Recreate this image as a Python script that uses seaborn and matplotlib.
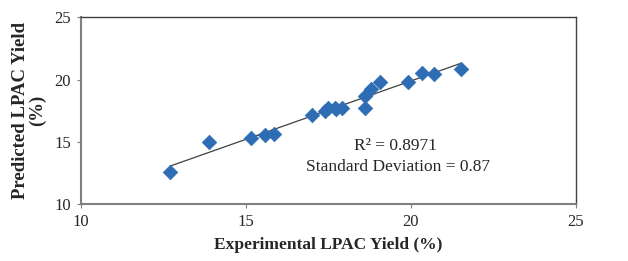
import numpy as np
import pandas as pd
import matplotlib
matplotlib.use("Agg")
import matplotlib.pyplot as plt
import seaborn as sns

experimental = [12.70, 13.89, 15.17, 15.57, 15.87, 17.01, 17.40, 17.50, 17.69, 17.73,
                17.91, 18.62, 18.62, 18.79, 19.07, 19.92, 20.35, 20.70, 21.51]
predicted = [12.60, 14.96, 15.28, 15.55, 15.63, 17.15, 17.50, 17.74, 17.74, 17.64,
             17.69, 17.74, 18.68, 19.22, 19.78, 19.83, 20.50, 20.45, 20.85]
ticks = [10, 15, 20, 25]
r2_text = "R² = 0.8971"
sd_text = "Standard Deviation = 0.87"

df = pd.DataFrame({"exp": experimental, "pred": predicted})

sns.set_style("white")
plt.rcParams['font.family'] = ['Liberation Serif', 'DejaVu Serif']

fig = plt.figure(figsize=(6.28, 2.61), dpi=100)
ax = fig.add_axes([0.1285, 0.218, 0.917 - 0.1285, 0.934 - 0.218])

# trend line
coef = np.polyfit(df["exp"], df["pred"], 1)
xl = np.array([min(experimental), max(experimental)])
sns.lineplot(x=xl, y=np.polyval(coef, xl), ax=ax, color="#404040", linewidth=0.9)

sns.scatterplot(data=df, x="exp", y="pred", ax=ax, marker="D", s=55,
                color="#2E6DB4", edgecolor="#2E6DB4", linewidth=0.5, zorder=3)

ax.set_xlim(10, 25)
ax.set_ylim(10, 25)
ax.set_xticks(ticks)
ax.set_yticks(ticks)
ax.tick_params(axis="both", direction="out", length=3, width=0.8, color="#808080",
               labelsize=12, bottom=True, left=True, pad=4)
for s in ax.spines.values():
    s.set_color("#404040")
    s.set_linewidth(1.0)
ax.spines["bottom"].set_color("#808080")
ax.spines["bottom"].set_linewidth(1.5)
ax.spines["left"].set_color("#808080")
ax.spines["left"].set_linewidth(1.5)

ax.set_xlabel("Experimental LPAC Yield (%)", fontsize=12.5, fontweight="bold", labelpad=5)
ax.set_ylabel("Predicted LPAC Yield\n(%)", fontsize=13.5, fontweight="bold", labelpad=6,
              linespacing=0.95)

ax.text(19.53, 14.66, r2_text, ha="center", va="center", fontsize=12.5)
ax.text(19.6, 12.97, sd_text, ha="center", va="center", fontsize=12.5)

fig.savefig("out.png", dpi=100)
